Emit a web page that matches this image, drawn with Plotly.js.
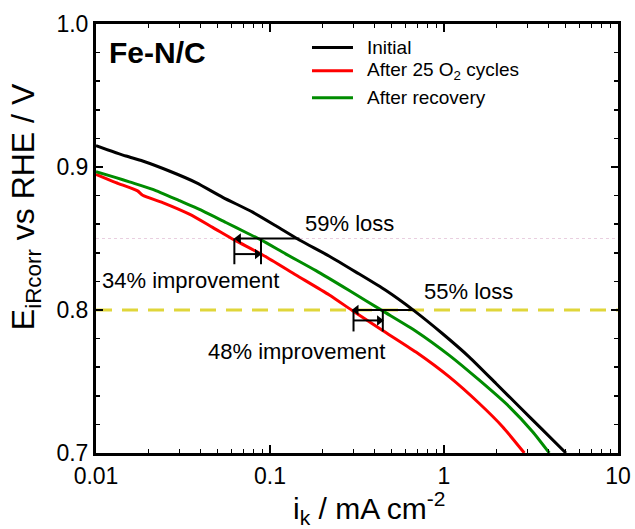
<!DOCTYPE html>
<html>
<head>
<meta charset="utf-8">
<script src="https://cdn.plot.ly/plotly-3.0.1.min.js"></script>
<style>html,body{margin:0;padding:0;background:#fff;}#chart{width:635px;height:529px;}</style>
</head>
<body>
<div id="chart"></div>
<script>
// ---- data (kinetic current in mA cm^-2, potential in V) ----
const seriesNames = ["Initial", "After 25 O<sub>2</sub> cycles", "After recovery"];
const seriesColors = ["#000000", "#ff0000", "#008c00"];
const initialI = [0.01, 0.01486, 0.01854, 0.02637, 0.0376, 0.0535, 0.0795, 0.108, 0.1475, 0.2195, 0.312, 0.4645, 0.675, 0.982, 1.398, 1.99, 2.71, 3.69, 5.02];
const initialE = [0.915, 0.9077, 0.9042, 0.8972, 0.8891, 0.8788, 0.8684, 0.8589, 0.849, 0.8376, 0.8265, 0.8136, 0.7994, 0.7834, 0.7671, 0.7486, 0.7323, 0.7162, 0.700];
const cycledI = [0.01, 0.01303, 0.01734, 0.01854, 0.02415, 0.0344, 0.0468, 0.0624, 0.0908, 0.141, 0.2193, 0.2985, 0.444, 0.69, 1.073, 1.596, 2.17, 2.896];
const cycledE = [0.8949, 0.8891, 0.8833, 0.8802, 0.8751, 0.867, 0.8578, 0.849, 0.8385, 0.8245, 0.8105, 0.7994, 0.7857, 0.7706, 0.7532, 0.7346, 0.7184, 0.700];
const recoveredI = [0.01, 0.01303, 0.01556, 0.0212, 0.0301, 0.041, 0.0558, 0.0728, 0.0888, 0.1236, 0.1837, 0.2855, 0.444, 0.69, 1.073, 1.596, 2.375, 3.23, 4.03];
const recoveredE = [0.8967, 0.8926, 0.8896, 0.8844, 0.8765, 0.8693, 0.8612, 0.8542, 0.849, 0.8391, 0.8275, 0.8136, 0.7994, 0.7852, 0.7683, 0.7509, 0.7323, 0.7149, 0.700];

// reference potentials
const refE = [0.85, 0.80];
// loss arrows: potential, current at Initial curve, current at cycled curve
const lossE = [0.85, 0.80];
const lossFromI = [0.1475, 0.675];
const lossToI = [0.066, 0.313];
// improvement markers: cycled current, recovered current, bar bottom, arrow level
const impLeftI = [0.0624, 0.302];
const impRightI = [0.0888, 0.445];
const impHeadI = [0.0845, 0.425];
const impBottomE = [0.832, 0.785];
const impArrowE = [0.8391, 0.7927];
// labels
const labelText = ["59% loss", "34% improvement", "55% loss", "48% improvement"];
const labelI = [0.288, 0.0349, 1.383, 0.142];
const labelE = [0.8605, 0.8206, 0.8129, 0.7711];

const xTickVals = [0.01, 0.1, 1, 10];
const xTickText = ["0.01", "0.1", "1", "10"];
const yTickVals = [0.7, 0.8, 0.9, 1.0];
const yTickText = ["0.7", "0.8", "0.9", "1.0"];
const xTitle = "i<sub>k</sub> / mA cm<sup>-2</sup>";
const yTitle = "E<sub>iRcorr</sub> vs RHE / V";
const panelLabel = "<b>Fe-N/C</b>";

const FONT = "Liberation Sans, Arial, Helvetica, sans-serif";
const minorX = [];
[0.01, 0.1, 1].forEach(d => { for (let k = 2; k <= 9; k++) minorX.push(+(d * k).toPrecision(3)); });

const traces = [];
traces.push({x: [0.01, 10], y: [refE[0], refE[0]], mode: "lines", line: {color: "#e9cfe0", width: 1.2, dash: "dot"}, showlegend: false, hoverinfo: "skip"});
traces.push({x: [0.01, 10], y: [refE[1], refE[1]], mode: "lines", line: {color: "#e0d63a", width: 3, dash: "16px,10px"}, showlegend: false, hoverinfo: "skip"});

const curveI = [initialI, cycledI, recoveredI];
const curveE = [initialE, cycledE, recoveredE];
for (let s = 0; s < 3; s++) {
  traces.push({x: curveI[s], y: curveE[s], name: seriesNames[s], mode: "lines", showlegend: false,
    line: {color: seriesColors[s], width: 3, shape: "spline", smoothing: 0.6}});
}

const blk = {color: "#000", width: 2};
for (let j = 0; j < 2; j++) {
  // improvement bars
  traces.push({x: [impLeftI[j], impLeftI[j]], y: [lossE[j], impBottomE[j]], mode: "lines", line: blk, showlegend: false, hoverinfo: "skip"});
  traces.push({x: [impRightI[j], impRightI[j]], y: [lossE[j], impBottomE[j]], mode: "lines", line: blk, showlegend: false, hoverinfo: "skip"});
  // loss arrow (leftwards)
  traces.push({x: [lossFromI[j], lossToI[j]], y: [lossE[j], lossE[j]], mode: "lines", line: blk, showlegend: false, hoverinfo: "skip"});
  traces.push({x: [lossToI[j]], y: [lossE[j]], mode: "markers", marker: {symbol: "triangle-left", size: 9, color: "#000"}, showlegend: false, hoverinfo: "skip"});
  // improvement arrow (rightwards)
  traces.push({x: [impLeftI[j], impHeadI[j]], y: [impArrowE[j], impArrowE[j]], mode: "lines", line: blk, showlegend: false, hoverinfo: "skip"});
  traces.push({x: [impHeadI[j]], y: [impArrowE[j]], mode: "markers", marker: {symbol: "triangle-right", size: 9, color: "#000"}, showlegend: false, hoverinfo: "skip"});
}

const annotations = [];
const shapes = [];
for (let j = 0; j < labelText.length; j++) {
  annotations.push({x: Math.log10(labelI[j]), y: labelE[j], xref: "x", yref: "y", text: labelText[j], showarrow: false, xanchor: "center", yanchor: "middle", font: {family: FONT, size: 22, color: "#000"}});
}
annotations.push({x: 0.021, y: 0.934, xref: "paper", yref: "paper", text: panelLabel, showarrow: false, xanchor: "left", yanchor: "middle", font: {family: FONT, size: 30, color: "#000"}});

// legend (key lines + text)
const legendRowY = [0.945, 0.891, 0.828];
for (let s = 0; s < 3; s++) {
  shapes.push({type: "line", xref: "paper", yref: "paper", x0: 0.4138, x1: 0.4923, y0: legendRowY[s], y1: legendRowY[s], line: {color: seriesColors[s], width: 3}});
  annotations.push({x: 0.5153, y: legendRowY[s], xref: "paper", yref: "paper", text: seriesNames[s], showarrow: false, xanchor: "left", yanchor: "middle", font: {family: FONT, size: 19, color: "#000"}});
}

// axis titles
annotations.push({x: 0.523, y: -0.128, xref: "paper", yref: "paper", text: xTitle, showarrow: false, xanchor: "center", yanchor: "middle", font: {family: FONT, size: 30, color: "#000"}});
annotations.push({x: -0.136, y: 0.573, xref: "paper", yref: "paper", text: yTitle, textangle: -90, showarrow: false, xanchor: "center", yanchor: "middle", font: {family: FONT, size: 32, color: "#000"}});

const layout = {
  width: 635, height: 529,
  margin: {l: 96, r: 17, t: 24, b: 76, pad: 0},
  paper_bgcolor: "#fff", plot_bgcolor: "#fff",
  font: {family: FONT, color: "#000"},
  showlegend: false,
  xaxis: {
    type: "log", range: [-2, 1], tickmode: "array", tickvals: xTickVals, ticktext: xTickText,
    showline: true, linewidth: 3, linecolor: "#000", mirror: "ticks",
    ticks: "inside", ticklen: 8, tickwidth: 2, tickcolor: "#000",
    minor: {tickmode: "array", tickvals: minorX, ticks: "inside", ticklen: 4, tickwidth: 1, tickcolor: "#000"},
    showgrid: false, zeroline: false,
    tickfont: {family: FONT, size: 23, color: "#000"}
  },
  yaxis: {
    range: [0.7, 1.0], tickmode: "array", tickvals: yTickVals, ticktext: yTickText,
    showline: true, linewidth: 3, linecolor: "#000", mirror: "ticks",
    ticks: "inside", ticklen: 7, tickwidth: 2, tickcolor: "#000",
    minor: {dtick: 0.02, tick0: 0.7, ticks: "inside", ticklen: 4, tickwidth: 1.5, tickcolor: "#000"},
    showgrid: false, zeroline: false,
    tickfont: {family: FONT, size: 23, color: "#000"}
  },
  shapes: shapes,
  annotations: annotations
};

Plotly.newPlot("chart", traces, layout, {displayModeBar: false, staticPlot: true});
</script>
</body>
</html>
